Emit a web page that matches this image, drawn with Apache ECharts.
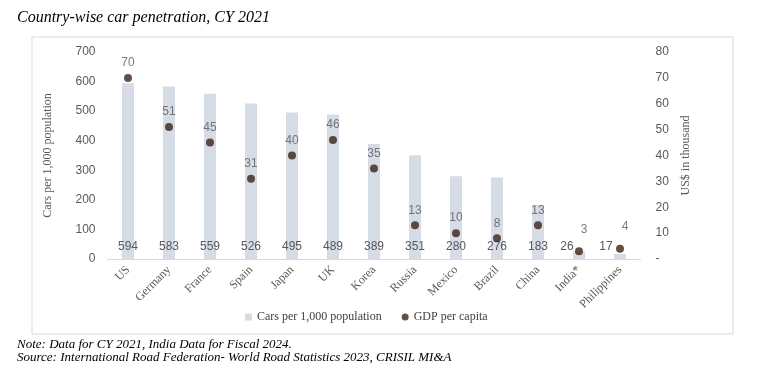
<!DOCTYPE html>
<html><head><meta charset="utf-8">
<script src="https://cdn.jsdelivr.net/npm/echarts@6/dist/echarts.min.js"></script>
<style>html,body{margin:0;padding:0;background:#fff}#c{width:768px;height:373px}</style>
</head><body><div id="c"></div>
<script>
var categories = ['US','Germany','France','Spain','Japan','UK','Korea','Russia','Mexico','Brazil','China','India*','Philippines'];
var cars = [594,583,559,526,495,489,389,351,280,276,183,26,17];
var gdp = [70,51,45,31,40,46,35,13,10,8,13,3,4];
var leftTicks = {min:0,max:700,interval:100};
var rightTicks = {min:0,max:80,interval:10};

var serif = '"Liberation Serif", "Times New Roman", serif';
var sans = '"Liberation Sans", Arial, sans-serif';

// small bars: label sits to the left of the bar; GDP label nudged up-right
var carsData = cars.map(function(v, i){
  if (categories[i] === 'India*') return {value:v, label:{offset:[-12,0]}};
  if (categories[i] === 'Philippines') return {value:v, label:{offset:[-14,0]}};
  return v;
});
var gdpData = gdp.map(function(v, i){
  if (categories[i] === 'India*' || categories[i] === 'Philippines') return {value:v, label:{offset:[5,-7]}};
  return v;
});

var chart = echarts.init(document.getElementById('c'));
chart.setOption({
  animation:false,
  title:{text:'Country-wise car penetration, CY 2021',left:12,top:5,
    textStyle:{fontFamily:serif,fontStyle:'italic',fontWeight:'normal',fontSize:16,color:'#000'}},
  graphic:[
    {type:'rect',shape:{x:32,y:37,width:701,height:297},style:{fill:'none',stroke:'#d9d9d9',lineWidth:1},z:-1},
    {type:'text',left:17,top:338,style:{text:'Note: Data for CY 2021, India Data for Fiscal 2024.',font:'italic 13px '+serif,fill:'#000'}},
    {type:'text',left:17,top:351,style:{text:'Source: International Road Federation- World Road Statistics 2023, CRISIL MI&A',font:'italic 13px '+serif,fill:'#000'}}
  ],
  legend:{left:240,top:306,itemWidth:7,itemHeight:7,itemGap:20,
    textStyle:{fontFamily:serif,fontSize:12,color:'#404040'},
    data:[{name:'Cars per 1,000 population',icon:'rect'},{name:'GDP per capita',icon:'circle'}]},
  grid:{left:107.5,right:127.5,top:52,bottom:114},
  xAxis:{type:'category',data:categories,
    axisLine:{lineStyle:{color:'#d9d9d9'}},axisTick:{show:false},
    axisLabel:{rotate:45,interval:0,fontFamily:serif,fontSize:12,color:'#595959',margin:9}},
  yAxis:[
    {type:'value',min:leftTicks.min,max:leftTicks.max,interval:leftTicks.interval,
      name:'Cars per 1,000 population',nameLocation:'middle',nameGap:54,
      nameTextStyle:{fontFamily:serif,fontSize:12,color:'#595959'},
      splitLine:{show:false},axisLine:{show:false},axisTick:{show:false},
      axisLabel:{fontFamily:sans,fontSize:12,color:'#595959',margin:12}},
    {type:'value',min:rightTicks.min,max:rightTicks.max,interval:rightTicks.interval,
      name:'US$ in thousand',nameLocation:'middle',nameGap:39,
      nameTextStyle:{fontFamily:serif,fontSize:12,color:'#595959'},
      splitLine:{show:false},axisLine:{show:false},axisTick:{show:false},
      axisLabel:{fontFamily:sans,fontSize:12,color:'#595959',margin:15,
        formatter:function(v){return v===0?'-':v;}}}
  ],
  series:[
    {name:'Cars per 1,000 population',type:'bar',data:carsData,barWidth:12,
      itemStyle:{color:'#d6dce5'},
      label:{show:true,position:'insideBottom',distance:6,fontFamily:sans,fontSize:12,color:'#595959'}},
    {name:'GDP per capita',type:'scatter',yAxisIndex:1,data:gdpData,symbolSize:8,
      itemStyle:{color:'#3b2316'},
      label:{show:true,position:'top',distance:5,fontFamily:sans,fontSize:12,color:'#595959'}}
  ]
});
</script></body></html>
